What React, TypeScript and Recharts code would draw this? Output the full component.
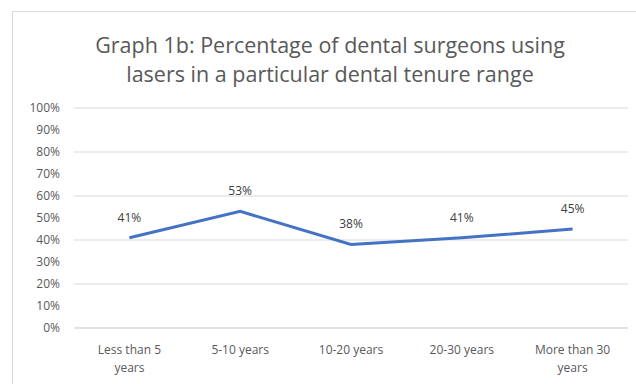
import React from "react";
import { CartesianGrid, LabelList, Line, LineChart, Text, XAxis, YAxis } from "recharts";

const categories = ["Less than 5 years", "5-10 years", "10-20 years", "20-30 years", "More than 30 years"];
const percentUsing = [41, 53, 38, 41, 45];
const yTicks = [0, 10, 20, 30, 40, 50, 60, 70, 80, 90, 100];
const titleLines = ["Graph 1b: Percentage of dental surgeons using", "lasers in a particular dental tenure range"];

const data = categories.map((name, i) => ({ name, value: percentUsing[i] }));

const FONT = "'Open Sans', sans-serif";
const GREY = "#595959";

function CategoryTick(props: any) {
  const { x, y, payload } = props;
  return (
    <Text
      x={x}
      y={y + 9}
      width={92}
      textAnchor="middle"
      verticalAnchor="start"
      lineHeight={18}
      fontSize={12}
      fontFamily={FONT}
      fill={GREY}
    >
      {payload.value}
    </Text>
  );
}

export default function App() {
  return (
    <div style={{ position: "absolute", left: 0, top: 0, width: 636, height: 384, background: "#fff", overflow: "hidden" }}>
      <div
        style={{
          position: "absolute",
          left: 12,
          top: 11,
          width: 660,
          height: 400,
          border: "1px solid #d9d9d9",
          boxSizing: "border-box",
        }}
      />
      <div
        style={{
          position: "absolute",
          left: 12,
          top: 30,
          width: 636,
          textAlign: "center",
          fontFamily: FONT,
          fontSize: 21.5,
          lineHeight: "29px",
          color: GREY,
        }}
      >
        {titleLines.map((t) => (
          <div key={t}>{t}</div>
        ))}
      </div>
      <div style={{ position: "absolute", left: 0, top: 0 }}>
        <LineChart width={636} height={384} data={data} margin={{ top: 108, right: 8, bottom: 26, left: 0 }}>
          <CartesianGrid vertical={false} stroke="#d9d9d9" />
          <XAxis
            dataKey="name"
            scale="band"
            axisLine={{ stroke: "#d9d9d9" }}
            tickLine={false}
            interval={0}
            height={30}
            tick={<CategoryTick />}
          />
          <YAxis
            width={74}
            domain={[0, 100]}
            ticks={yTicks}
            axisLine={false}
            tickLine={false}
            tickMargin={8}
            tickFormatter={(v: number) => `${v}%`}
            tick={{ fontSize: 12, fill: GREY, fontFamily: FONT }}
          />
          <Line
            type="linear"
            dataKey="value"
            stroke="#4472C4"
            strokeWidth={3}
            dot={false}
            isAnimationActive={false}
          >
            <LabelList
              dataKey="value"
              position="top"
              offset={16}
              formatter={(v: number) => `${v}%`}
              style={{ fontSize: 12, fill: "#404040", fontFamily: FONT }}
            />
          </Line>
        </LineChart>
      </div>
    </div>
  );
}
